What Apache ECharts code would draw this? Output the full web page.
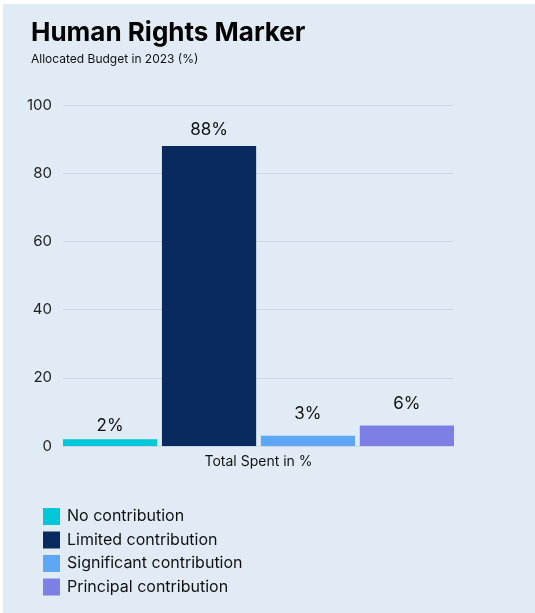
<!DOCTYPE html>
<html>
<head>
<meta charset="utf-8">
<script src="https://cdn.jsdelivr.net/npm/echarts@6/dist/echarts.min.js"></script>
<style>
  html, body { margin: 0; padding: 0; background: #ffffff; }
  #chart { position: absolute; left: 3px; top: 4px; width: 532px; height: 609px; background: #E1EBF5; }
</style>
</head>
<body>
<div id="chart"></div>
<script>
// Share of the 2023 budget by Human Rights Marker level
const categories = ['Total Spent in %'];
const seriesNames = ['No contribution', 'Limited contribution', 'Significant contribution', 'Principal contribution'];
const noContribution = [2];
const limitedContribution = [88];
const significantContribution = [3];
const principalContribution = [6];
const yTicks = [0, 20, 40, 60, 80, 100];

const colors = ['#00C8D8', '#082A5F', '#5EA7F6', '#7D7FE5'];
const labelDistances = [5, 8, 13, 13];
const values = [noContribution, limitedContribution, significantContribution, principalContribution];
const fontFamily = 'Inter, "Noto Sans", sans-serif';

const chart = echarts.init(document.getElementById('chart'));
chart.setOption({
  animation: false,
  textStyle: { fontFamily: fontFamily },
  title: {
    text: 'Human Rights Marker',
    subtext: 'Allocated Budget in 2023 (%)',
    left: 23,
    top: 11,
    itemGap: 7,
    textStyle: { fontFamily: fontFamily, fontSize: 26, fontWeight: 'bold', color: '#000000' },
    subtextStyle: { fontFamily: fontFamily, fontSize: 12, color: '#111111' }
  },
  legend: {
    orient: 'vertical',
    left: 35,
    top: 499,
    itemWidth: 17,
    itemHeight: 17,
    itemGap: 6.5,
    icon: 'rect',
    data: seriesNames,
    textStyle: { fontFamily: fontFamily, fontSize: 16, color: '#111111', padding: [0, 0, 0, 2] }
  },
  grid: { left: 60, right: 81, top: 101, bottom: 167 },
  xAxis: {
    type: 'category',
    data: categories,
    axisLine: { show: false },
    axisTick: { show: false },
    axisLabel: { fontSize: 14, color: '#111111', margin: 9 }
  },
  yAxis: {
    type: 'value',
    min: yTicks[0],
    max: yTicks[yTicks.length - 1],
    interval: yTicks[1] - yTicks[0],
    axisLine: { show: false },
    axisTick: { show: false },
    axisLabel: { fontSize: 15, color: '#222222', margin: 11 },
    splitLine: { lineStyle: { color: '#CCD8E6', width: 1 } }
  },
  series: seriesNames.map((name, i) => ({
    name: name,
    type: 'bar',
    data: values[i],
    barGap: '5%',
    barCategoryGap: '0%',
    itemStyle: { color: colors[i] },
    label: {
      show: true,
      position: 'top',
      distance: labelDistances[i],
      formatter: '{c}%',
      fontSize: 17,
      color: '#111111'
    }
  }))
});
</script>
</body>
</html>
